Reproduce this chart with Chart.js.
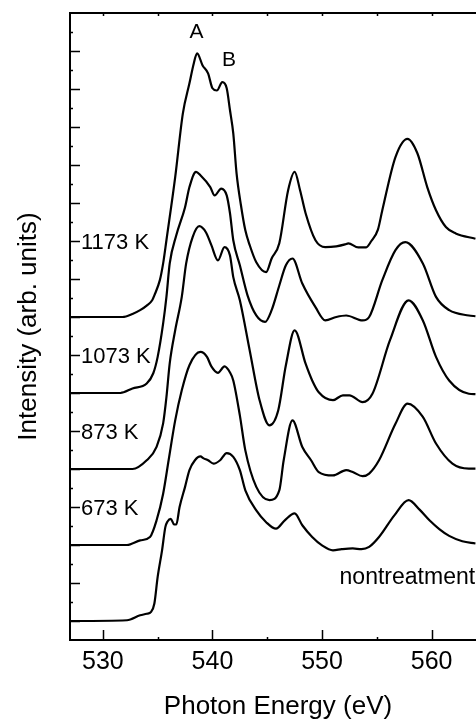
<!DOCTYPE html>
<html>
<head>
<meta charset="utf-8">
<script src="https://cdn.jsdelivr.net/npm/chart.js@4.4.1/dist/chart.umd.min.js"></script>
<style>
  html, body { margin: 0; padding: 0; background: #fff; overflow: hidden; }
  canvas { display: block; }
</style>
</head>
<body>
<canvas id="xas" width="476" height="720"></canvas>
<script>
// spectra, offset upward by 2 units each (nontreatment at bottom)
const energy1173 = [527.0, 531.8, 532.7, 533.4, 534.0, 534.5, 534.7, 535.2, 535.5, 535.8, 536.6, 537.3, 537.9, 538.3, 538.6, 539.1, 539.6, 540.0, 540.4, 540.9, 541.3, 541.6, 541.9, 542.2, 542.6, 543.0, 543.4, 544.0, 544.9, 545.4, 546.1, 546.9, 547.5, 548.0, 548.5, 549.4, 550.3, 551.3, 552.1, 552.4, 553.3, 554.0, 554.5, 555.1, 555.5, 556.7, 557.8, 558.7, 559.6, 560.4, 561.3, 562.2, 564.0];
const int1173 = [8.00, 8.00, 8.08, 8.18, 8.30, 8.44, 8.57, 8.97, 9.41, 10.02, 11.68, 13.36, 14.15, 14.68, 14.94, 14.62, 14.41, 14.02, 13.96, 14.18, 14.02, 13.44, 12.83, 11.78, 10.94, 10.28, 9.89, 9.44, 9.18, 9.54, 9.94, 11.33, 11.82, 11.33, 10.73, 10.02, 9.84, 9.86, 9.91, 9.94, 9.83, 9.83, 10.00, 10.30, 10.81, 12.21, 12.69, 12.31, 11.42, 10.81, 10.37, 10.20, 10.06];

const energy1073 = [527.0, 531.6, 532.7, 534.0, 534.6, 535.0, 535.5, 535.8, 536.1, 536.7, 537.5, 537.9, 538.5, 538.9, 539.8, 540.2, 540.8, 541.3, 541.6, 541.9, 542.5, 543.2, 544.0, 544.8, 545.4, 546.1, 546.7, 547.3, 548.2, 549.4, 550.3, 551.3, 552.2, 553.7, 554.3, 555.5, 556.7, 557.6, 559.2, 560.4, 561.6, 563.4, 564.0];
const int1073 = [6.00, 6.00, 6.12, 6.25, 6.52, 6.95, 7.83, 8.53, 9.41, 10.15, 10.89, 11.42, 11.82, 11.73, 11.42, 11.20, 11.38, 11.20, 10.73, 10.02, 9.36, 8.57, 8.04, 7.87, 8.18, 8.83, 9.36, 9.54, 8.88, 8.26, 7.91, 8.00, 8.04, 7.91, 8.00, 8.97, 9.76, 9.97, 9.41, 8.53, 8.18, 8.04, 8.02];

const energy873 = [527.0, 532.7, 534.0, 534.9, 535.5, 535.8, 536.1, 536.6, 537.2, 537.6, 538.2, 538.8, 539.4, 539.9, 540.5, 541.1, 541.6, 541.9, 542.5, 543.4, 544.3, 545.2, 546.0, 546.7, 547.5, 548.5, 549.1, 549.7, 551.0, 551.9, 552.5, 553.7, 554.6, 556.2, 557.9, 559.2, 560.4, 561.6, 563.4, 564.0];
const int873 = [4.00, 4.00, 4.23, 4.58, 5.20, 5.89, 6.78, 7.65, 8.53, 9.41, 10.11, 10.39, 10.23, 9.89, 9.49, 9.84, 9.62, 9.05, 8.44, 7.12, 5.81, 5.15, 5.54, 6.73, 7.65, 6.77, 6.33, 6.02, 5.81, 5.94, 5.94, 5.76, 5.98, 7.39, 8.44, 7.91, 6.95, 6.33, 5.98, 5.97];

const energy673 = [527.0, 532.2, 533.4, 534.3, 534.9, 535.5, 536.0, 536.6, 537.2, 537.9, 538.9, 539.5, 539.9, 540.5, 541.1, 541.6, 541.9, 542.5, 543.0, 544.0, 545.2, 546.1, 546.5, 547.3, 548.2, 549.0, 549.7, 551.0, 552.2, 552.8, 553.7, 554.3, 555.2, 556.7, 557.8, 559.2, 560.4, 561.9, 563.4, 564.0];
const int673 = [2.00, 2.00, 2.12, 2.21, 2.65, 3.35, 4.23, 5.28, 6.07, 6.73, 7.08, 6.95, 6.70, 6.53, 6.70, 6.54, 6.33, 5.41, 4.49, 3.53, 3.18, 3.44, 4.23, 5.28, 4.58, 4.23, 3.92, 3.83, 3.97, 3.92, 3.81, 3.88, 4.23, 5.19, 5.72, 5.37, 4.67, 4.14, 4.01, 4.01];

const energyRaw = [527.0, 532.2, 533.4, 534.0, 534.4, 534.7, 535.0, 535.4, 535.7, 535.9, 536.2, 536.5, 536.7, 537.0, 537.5, 537.9, 538.4, 538.9, 539.2, 539.6, 540.1, 540.7, 541.3, 541.9, 542.5, 543.0, 544.0, 544.9, 545.8, 546.6, 547.5, 548.2, 549.1, 550.0, 551.0, 551.8, 552.8, 553.6, 554.3, 555.2, 556.6, 557.9, 558.9, 559.8, 560.7, 561.6, 562.8, 564.0];
const intRaw = [0.00, 0.02, 0.15, 0.19, 0.24, 0.46, 1.16, 1.86, 2.47, 2.62, 2.69, 2.54, 2.54, 3.00, 3.53, 3.97, 4.23, 4.33, 4.28, 4.23, 4.14, 4.23, 4.42, 4.32, 3.97, 3.44, 2.91, 2.60, 2.43, 2.65, 2.83, 2.52, 2.21, 1.99, 1.86, 1.89, 1.91, 1.89, 1.95, 2.21, 2.78, 3.18, 2.93, 2.65, 2.42, 2.24, 2.10, 2.04];

// axis ticks
const xMajorTicks = [530, 540, 550, 560];
const xMinorTicks = [535, 545, 555];
const xTickLabels = ['530', '540', '550', '560'];

// curve labels on the left, and their heights
const tempLabels = ['1173 K', '1073 K', '873 K', '673 K'];
const tempLevels = [10, 7, 5, 3];

// peak markers
const peakNames = ['A', 'B'];
const peakEnergy = [538.55, 541.5];
const peakLevel = [15.5, 14.75];

const series = [
  [energy1173, int1173],
  [energy1073, int1073],
  [energy873, int873],
  [energy673, int673],
  [energyRaw, intRaw]
];

const FONT = '"Liberation Sans", Arial, Helvetica, sans-serif';

const axesPlugin = {
  id: 'axesPlugin',
  afterDatasetsDraw(chart) {
    const { ctx, chartArea: a, scales: { x, y } } = chart;
    ctx.save();
    ctx.strokeStyle = '#000';
    ctx.fillStyle = '#000';

    // frame (right side is cut off)
    ctx.lineWidth = 2;
    ctx.beginPath();
    ctx.moveTo(a.right + 2, a.top);
    ctx.lineTo(a.left, a.top);
    ctx.lineTo(a.left, a.bottom);
    ctx.lineTo(a.right + 2, a.bottom);
    ctx.stroke();

    // x ticks, pointing inward
    ctx.lineWidth = 1.5;
    ctx.beginPath();
    xMajorTicks.concat(xMinorTicks).forEach(v => {
      const px = Math.round(x.getPixelForValue(v)) + 0.5;
      const len = xMajorTicks.includes(v) ? 10 : 3;
      ctx.moveTo(px, a.bottom);
      ctx.lineTo(px, a.bottom - len);
      ctx.moveTo(px, a.top);
      ctx.lineTo(px, a.top + 3);
    });
    // y ticks
    for (let v = 0; v <= 15.5; v += 0.5) {
      const py = Math.round(y.getPixelForValue(v)) + 0.5;
      const len = Number.isInteger(v) ? 10 : 3;
      ctx.moveTo(a.left, py);
      ctx.lineTo(a.left + len, py);
    }
    ctx.stroke();

    // tick labels
    ctx.font = '25px ' + FONT;
    ctx.textAlign = 'center';
    ctx.textBaseline = 'middle';
    xMajorTicks.forEach((v, i) => {
      ctx.fillText(xTickLabels[i], x.getPixelForValue(v), a.bottom + 22);
    });

    // axis titles
    ctx.font = '26px ' + FONT;
    ctx.textBaseline = 'alphabetic';
    ctx.fillText('Photon Energy (eV)', 278, 714);
    ctx.save();
    ctx.translate(29, (a.top + a.bottom) / 2);
    ctx.rotate(-Math.PI / 2);
    ctx.textBaseline = 'middle';
    ctx.fillText('Intensity (arb. units)', 0, 0);
    ctx.restore();

    // temperature labels
    ctx.font = '22px ' + FONT;
    ctx.textAlign = 'left';
    ctx.textBaseline = 'middle';
    tempLabels.forEach((t, i) => {
      ctx.fillText(t, a.left + 11, y.getPixelForValue(tempLevels[i]) + 1.5);
    });
    ctx.font = '23px ' + FONT;
    ctx.textBaseline = 'alphabetic';
    ctx.fillText('nontreatment', x.getPixelForValue(551.6), y.getPixelForValue(0.97));

    // peak letters
    ctx.font = '21px ' + FONT;
    ctx.textAlign = 'center';
    ctx.textBaseline = 'middle';
    peakNames.forEach((p, i) => {
      ctx.fillText(p, x.getPixelForValue(peakEnergy[i]), y.getPixelForValue(peakLevel[i]));
    });
    ctx.restore();
  }
};

new Chart(document.getElementById('xas'), {
  type: 'line',
  data: {
    datasets: series.map(([ex, iy]) => ({
      data: ex.map((e, i) => ({ x: e, y: iy[i] })),
      borderColor: '#000',
      borderWidth: 2.2,
      pointRadius: 0,
      fill: false,
      cubicInterpolationMode: 'monotone'
    }))
  },
  options: {
    responsive: false,
    animation: false,
    devicePixelRatio: 1,
    layout: { padding: { left: 70, top: 13, right: 0, bottom: 80 } },
    plugins: { legend: { display: false }, tooltip: { enabled: false } },
    scales: {
      x: { type: 'linear', min: 527, max: 564.05, display: false },
      y: { min: -0.5, max: 16, display: false }
    }
  },
  plugins: [axesPlugin]
});
</script>
</body>
</html>
